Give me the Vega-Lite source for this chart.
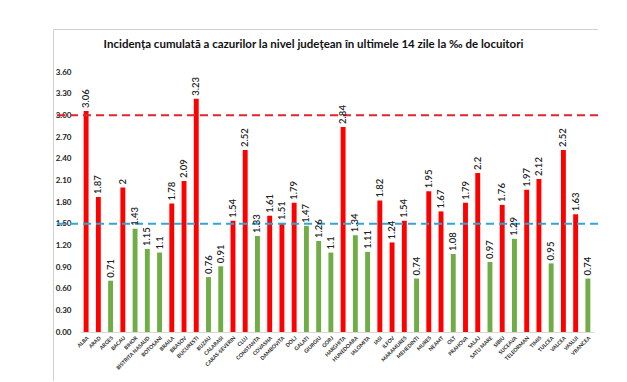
{
  "$schema": "https://vega.github.io/schema/vega-lite/v6.json",
  "width": 545,
  "height": 352,
  "autosize": {"type": "none"},
  "padding": {"left": 53, "top": 29, "right": 0, "bottom": 0},
  "background": "white",
  "view": {"stroke": "#D0D0D0", "strokeWidth": 1, "fill": "white"},
  "config": {
    "view": {"stroke": "#D0D0D0", "strokeWidth": 1},
    "font": "Lato"
  },
  "data": {
    "values": [
      {"judet": "ALBA", "incidenta": 3.06, "grup": "peste"},
      {"judet": "ARAD", "incidenta": 1.87, "grup": "peste"},
      {"judet": "ARGES", "incidenta": 0.71, "grup": "sub"},
      {"judet": "BACAU", "incidenta": 2, "grup": "peste"},
      {"judet": "BIHOR", "incidenta": 1.43, "grup": "sub"},
      {"judet": "BISTRITA NASAUD", "incidenta": 1.15, "grup": "sub"},
      {"judet": "BOTOSANI", "incidenta": 1.1, "grup": "sub"},
      {"judet": "BRAILA", "incidenta": 1.78, "grup": "peste"},
      {"judet": "BRASOV", "incidenta": 2.09, "grup": "peste"},
      {"judet": "BUCURESTI", "incidenta": 3.23, "grup": "peste"},
      {"judet": "BUZAU", "incidenta": 0.76, "grup": "sub"},
      {"judet": "CALARASI", "incidenta": 0.91, "grup": "sub"},
      {"judet": "CARAS-SEVERIN", "incidenta": 1.54, "grup": "peste"},
      {"judet": "CLUJ", "incidenta": 2.52, "grup": "peste"},
      {"judet": "CONSTANTA", "incidenta": 1.33, "grup": "sub"},
      {"judet": "COVASNA", "incidenta": 1.61, "grup": "peste"},
      {"judet": "DAMBOVITA", "incidenta": 1.51, "grup": "peste"},
      {"judet": "DOLJ", "incidenta": 1.79, "grup": "peste"},
      {"judet": "GALATI", "incidenta": 1.47, "grup": "sub"},
      {"judet": "GIURGIU", "incidenta": 1.26, "grup": "sub"},
      {"judet": "GORJ", "incidenta": 1.1, "grup": "sub"},
      {"judet": "HARGHITA", "incidenta": 2.84, "grup": "peste"},
      {"judet": "HUNEDOARA", "incidenta": 1.34, "grup": "sub"},
      {"judet": "IALOMITA", "incidenta": 1.11, "grup": "sub"},
      {"judet": "IASI", "incidenta": 1.82, "grup": "peste"},
      {"judet": "ILFOV", "incidenta": 1.24, "grup": "peste"},
      {"judet": "MARAMURES", "incidenta": 1.54, "grup": "peste"},
      {"judet": "MEHEDINTI", "incidenta": 0.74, "grup": "sub"},
      {"judet": "MURES", "incidenta": 1.95, "grup": "peste"},
      {"judet": "NEAMT", "incidenta": 1.67, "grup": "peste"},
      {"judet": "OLT", "incidenta": 1.08, "grup": "sub"},
      {"judet": "PRAHOVA", "incidenta": 1.79, "grup": "peste"},
      {"judet": "SALAJ", "incidenta": 2.2, "grup": "peste"},
      {"judet": "SATU MARE", "incidenta": 0.97, "grup": "sub"},
      {"judet": "SIBIU", "incidenta": 1.76, "grup": "peste"},
      {"judet": "SUCEAVA", "incidenta": 1.29, "grup": "sub"},
      {"judet": "TELEORMAN", "incidenta": 1.97, "grup": "peste"},
      {"judet": "TIMIS", "incidenta": 2.12, "grup": "peste"},
      {"judet": "TULCEA", "incidenta": 0.95, "grup": "sub"},
      {"judet": "VALCEA", "incidenta": 2.52, "grup": "peste"},
      {"judet": "VASLUI", "incidenta": 1.63, "grup": "peste"},
      {"judet": "VRANCEA", "incidenta": 0.74, "grup": "sub"}
    ]
  },
  "encoding": {
    "y": {
      "field": "incidenta",
      "type": "quantitative",
      "title": null,
      "scale": {"domain": [0, 3.6], "range": [303, 43], "nice": false, "zero": true},
      "axis": {
        "offset": -22,
        "values": [0, 0.3, 0.6, 0.9, 1.2, 1.5, 1.8, 2.1, 2.4, 2.7, 3.0, 3.3, 3.6],
        "format": ".2f",
        "labelFontSize": 8,
        "labelFontWeight": "bold",
        "labelColor": "#222222",
        "labelPadding": 4,
        "ticks": false,
        "domain": false,
        "grid": false
      }
    }
  },
  "layer": [
    {
      "mark": {"type": "bar"},
      "encoding": {
        "x": {
          "field": "judet",
          "type": "nominal",
          "sort": null,
          "title": null,
          "scale": {"range": [27, 541], "paddingInner": 0.6, "paddingOuter": 0.3},
          "axis": {
            "orient": "bottom",
            "offset": -49,
            "labelAngle": -45,
            "labelFontSize": 5.2,
            "labelFontWeight": "bold",
            "labelColor": "#222222",
            "labelPadding": 3,
            "ticks": false,
            "domainColor": "#D9D9D9",
            "labelOverlap": false
          }
        },
        "color": {
          "field": "grup",
          "type": "nominal",
          "scale": {"domain": ["peste", "sub"], "range": ["#FF0000", "#70AD47"]},
          "legend": null
        }
      }
    },
    {
      "data": {"values": [{"prag": 3.0, "tip": "rosu"}]},
      "mark": {"type": "rule", "color": "#E0262B", "strokeWidth": 2, "strokeDash": [8, 5]},
      "encoding": {"y": {"field": "prag", "type": "quantitative"}}
    },
    {
      "data": {"values": [{"prag": 1.5, "tip": "albastru"}]},
      "mark": {"type": "rule", "color": "#2EA6D8", "strokeWidth": 2, "strokeDash": [8, 5]},
      "encoding": {"y": {"field": "prag", "type": "quantitative"}}
    },
    {
      "mark": {"type": "text", "angle": 270, "align": "left", "baseline": "middle", "dx": 3, "fontSize": 9.5, "fontWeight": 600, "color": "#222222"},
      "encoding": {
        "x": {
          "field": "judet",
          "type": "nominal",
          "sort": null,
          "title": "Incidența cumulată a cazurilor la nivel județean în ultimele 14 zile la ‰ de locuitori",
          "axis": {
            "orient": "top",
            "labels": false,
            "ticks": false,
            "domain": false,
            "titleFontSize": 11.5,
            "titleFontWeight": "bold",
            "titleColor": "#111111",
            "titleAlign": "center",
            "titleBaseline": "middle",
            "titleX": 260,
            "titleY": 15
          }
        },
        "text": {"field": "incidenta", "type": "quantitative"}
      }
    }
  ],
  "resolve": {"axis": {"x": "independent"}}
}
